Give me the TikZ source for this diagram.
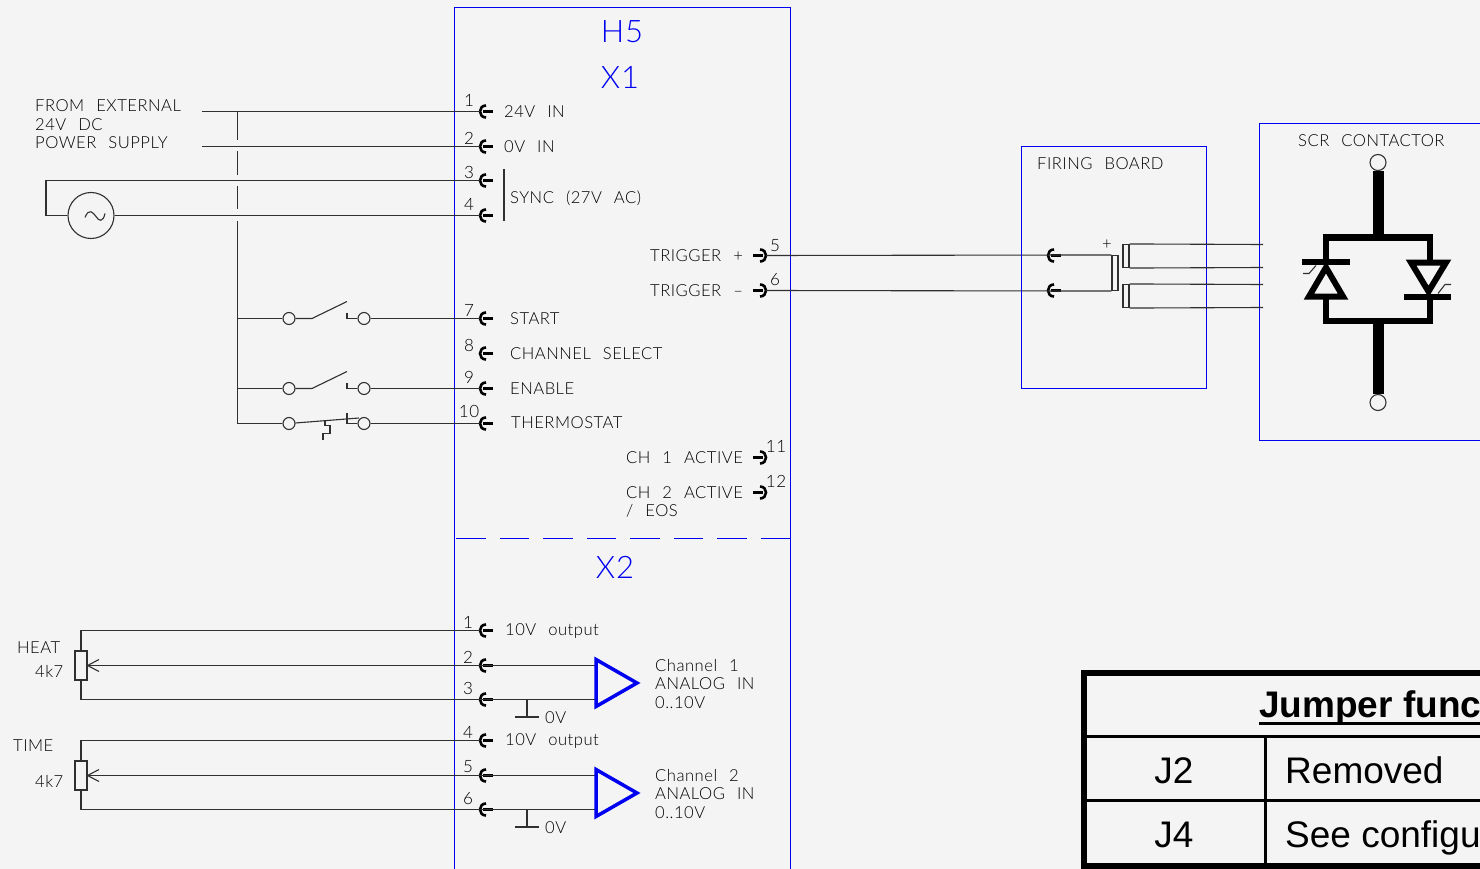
\documentclass[tikz,border=0pt]{standalone}
\usepackage{fontspec}
\usepackage{tikz}
\usepackage{xcolor}
\setmainfont{Liberation Sans}
\newfontfamily\cadfont[LetterSpace=3,WordSpace=2.4]{Lato Light}
\definecolor{sheet}{HTML}{F4F4F4}
\definecolor{wire}{HTML}{303030}
\definecolor{frame}{HTML}{0000F0}
\tikzset{
    wirepath/.style = {draw=wire, line width=1.1pt},
    frameline/.style = {draw=frame, line width=1pt},
    cadtext/.style = {text=black, font=\cadfont\fontsize{16.6}{18.6}\selectfont, inner sep=0pt, anchor=west, align=left, yshift=0.5pt},
    pinno/.style = {text=black, font=\cadfont\fontsize{17}{18}\selectfont, inner sep=0pt},
    frametitle/.style = {text=frame, font=\cadfont\fontsize{31}{32}\selectfont, inner sep=0pt},
    contact/.style = {circle, draw=wire, line width=1.1pt, inner sep=0pt, minimum size=12pt},
    thickpath/.style = {draw=black, line width=6pt, line cap=butt},
    potbox/.style = {rectangle, draw=wire, line width=1.1pt, inner sep=0pt, minimum width=12pt, minimum height=29pt},
    tablecell/.style = {text=black, font=\fontsize{37}{40}\selectfont, inner sep=0pt},
    socketl/.pic = {
        \coordinate (-in) at (-6,0);
        \draw[black, line width=2.6pt] (0,-6) .. controls (-8,-6) and (-8,6) .. (0,6);
        \draw[black, line width=3.6pt] (-3,0) -- (7,0);
    },
    socketr/.pic = {
        \coordinate (-in) at (6,0);
        \draw[black, line width=2.6pt] (0,-6) .. controls (8,-6) and (8,6) .. (0,6);
        \draw[black, line width=3.6pt] (3,0) -- (-7,0);
    },
}
\begin{document}
\begin{tikzpicture}[x=1pt,y=-1pt]
\useasboundingbox[fill=sheet] (0,-0.5) rectangle (1480,868.5);

% H5 housing
\draw[frameline] (454.5,868.5) -- (454.5,7.5) -- (790,7.5) -- (790,868.5);
\draw[frame, line width=1pt, dash pattern=on 29.3pt off 14.2pt] (790,538) -- (454.5,538);
\node[frametitle] (h5) at (622,31.5) {H5};
\node[frametitle] (x1) at (620,77) {X1};
\node[frametitle] (x2) at (615,567) {X2};

% X1 left terminals
\foreach \nm/\y/\numy in {1/111/100, 2/146/138, 3/180/172, 4/215/204, 7/318/310, 8/353/345, 9/388/377, 10/423/411} {
    \pic (xa\nm) at (486,\y) {socketl};
    \node[pinno] (xan\nm) at (469,\numy) {\nm};
}
\node[cadtext] (in24) at (504,112) {24V IN};
\node[cadtext] (in0) at (504,146.5) {0V IN};
\node[cadtext] (sync) at (510,198) {SYNC (27V AC)};
\node[cadtext] (start) at (510,319) {START};
\node[cadtext] (chsel) at (510,354) {CHANNEL SELECT};
\node[cadtext] (enable) at (510,388.5) {ENABLE};
\node[cadtext] (thermo) at (511,423) {THERMOSTAT};
\coordinate (synca) at (504,169);
\coordinate (syncb) at (504,221);
\draw[wirepath] (synca) -- (syncb);

% X1 right terminals
\foreach \nm/\y/\numx/\numy in {5/255/775/245, 6/290/775/279, 11/457/776/446, 12/492/776/481} {
    \pic (xa\nm) at (760,\y) {socketr};
    \node[pinno] (xan\nm) at (\numx,\numy) {\nm};
}
\node[cadtext] (trigp) at (650,256) {TRIGGER +};
\node[cadtext] (trign) at (650,290.5) {TRIGGER –};
\node[cadtext] (ch1) at (626,458) {CH 1 ACTIVE};
\node[cadtext] (ch2) at (626,492.5) {CH 2 ACTIVE};
\node[cadtext] (eos) at (626,511) {/ EOS};

% supply
\node[cadtext] (supply) at (35,124.5) {FROM EXTERNAL\\24V DC\\POWER SUPPLY};
\coordinate (s24) at (202,111);
\coordinate (s0) at (202,146);
\draw[wirepath] (s24) -- (xa1-in);
\draw[wirepath] (s0) -- (xa2-in);
\node[circle, draw=wire, line width=1.1pt, inner sep=0pt, minimum size=46pt] (ac) at (91,215) {};
\draw[wirepath] (85,217) .. controls (89,207) and (93,212) .. (96,216) .. controls (99,221) and (103,222) .. (105,213);
\coordinate (acb) at (46,215);
\coordinate (act) at (46,180);
\draw[wirepath] (ac) -- (acb) -- (act) -- (xa3-in);
\draw[wirepath] (ac) -- (xa4-in);

% rail with breaks at the crossings
\coordinate (rail) at (237.4,111);
\coordinate (railend) at (237.4,423);
\draw[wirepath] (rail) -- (237.4,140);
\draw[wirepath] (237.4,151) -- (237.4,175);
\draw[wirepath] (237.4,186) -- (237.4,209);
\draw[wirepath] (237.4,221) -- (railend);

% contacts
\foreach \nm/\y in {7/318, 9/388} {
    \node[contact] (ca\nm) at (289,\y) {};
    \node[contact] (cb\nm) at (364,\y) {};
    \draw[wirepath] (237.4,\y) -- (ca\nm);
    \draw[wirepath] (ca\nm) -- (312,\y) -- (347,\y-17);
    \draw[wirepath] (347,\y-6) -- (347,\y) -- (cb\nm);
    \draw[wirepath] (cb\nm) -- (xa\nm-in);
}
\node[contact] (ca10) at (289,423) {};
\node[contact] (cb10) at (364,423) {};
\coordinate (blade) at (359,417.5);
\draw[wirepath] (railend) -- (ca10);
\draw[wirepath] (ca10) -- (blade);
\draw[wirepath] (347,412) -- (347,423) -- (cb10);
\draw[wirepath] (cb10) -- (xa10-in);
\draw[wirepath] (325,420.5) -- (325,425) -- (330,425) -- (330,433) -- (323,433) -- (323,439);

% trigger wires
\node[rectangle, draw=wire, line width=1.1pt, inner sep=0pt, minimum width=6pt, minimum height=35pt] (fbbar) at (1115,272.5) {};
\pic (fb1) at (1054,255) {socketl};
\pic (fb2) at (1054,290) {socketl};
\draw[wirepath] (xa5-in) -- (fbbar.north west);
\draw[wirepath] (xa6-in) -- (fbbar.south west);
\node[cadtext, anchor=center] (fbplus) at (1107,245) {+};

% firing board and scr box
\node[rectangle, frameline, inner sep=0pt, minimum width=185pt, minimum height=242pt] (fb) at (1114.3,266.7) {};
\node[cadtext] (fbtitle) at (1037,164) {FIRING BOARD};
\draw[frameline] (1480,122.7) -- (1259.7,122.7) -- (1259.7,440) -- (1480,440);
\node[cadtext] (scrtitle) at (1298,141) {SCR CONTACTOR};
\foreach \nm/\y in {1/255.5, 2/295.5} {
    \node[rectangle, draw=wire, line width=1.1pt, inner sep=0pt, minimum width=6pt, minimum height=23pt] (tr\nm) at (1126,\y) {};
    \coordinate (gt\nm) at (1263,\y-11.5);
    \coordinate (gb\nm) at (1263,\y+11.5);
    \draw[wirepath] (tr\nm.north east) -- (gt\nm);
    \draw[wirepath] (tr\nm.south east) -- (gb\nm);
}

% thyristor pair
\node[contact, minimum size=16pt] (scrt) at (1378,162) {};
\node[contact, minimum size=16pt] (scrb) at (1378,402) {};
\draw[black, line width=11pt] (scrt) -- (1378,240);
\draw[black, line width=11pt] (1378,318) -- (scrb);
\draw[thickpath] (1326,261) -- (1326,237) -- (1430,237) -- (1430,262);
\draw[thickpath] (1326,296) -- (1326,320) -- (1430,320) -- (1430,296);
\draw[thickpath] (1302,261.5) -- (1350,261.5);
\draw[thickpath, line join=miter] (1326,267) -- (1343,296) -- (1309,296) -- cycle;
\draw[thickpath, line join=miter] (1411,262) -- (1446,262) -- (1428.5,291) -- cycle;
\draw[thickpath] (1404,296) -- (1451,296);
\draw[wirepath] (1303,273) -- (1309,273) -- (1316,265);
\draw[wirepath] (1438,293) -- (1445,284) -- (1451,284);

% X2 terminals
\foreach \nm/\y/\numy in {1/630/622, 2/665/657, 3/699/688, 4/740/732, 5/775/766, 6/809/798} {
    \pic (xb\nm) at (486,\y) {socketl};
    \node[pinno] (xbn\nm) at (468,\numy) {\nm};
}
\node[cadtext] (ref1) at (505,631) {10V output};
\node[cadtext] (ref2) at (505,741) {10V output};

% analog channels
\foreach \ch/\dy/\pa/\pb/\pc in {1/0/1/2/3, 2/110/4/5/6} {
    \node[potbox] (pot\ch) at (81,665+\dy) {};
    \coordinate (pt\ch) at (81,630+\dy);
    \coordinate (pb\ch) at (81,699+\dy);
    \draw[wirepath] (xb\pa-in) -- (pt\ch) -- (pot\ch);
    \draw[wirepath] (pot\ch) -- (pb\ch) -- (xb\pc-in);
    \draw[wirepath] (pot\ch.east) -- (596,665+\dy);
    \draw[wirepath] (99,659+\dy) -- (pot\ch.east) -- (99,671+\dy);
    \draw[wirepath] (xb\pc-in) -- (596,699+\dy);
    \draw[frame, line width=3.5pt, line join=miter] (596,659+\dy) -- (637,682.5+\dy) -- (596,706+\dy) -- cycle;
    \coordinate (gnd\ch) at (527,716.5+\dy);
    \draw[wirepath] (527,699+\dy) -- (gnd\ch);
    \draw[wirepath] (515,716.5+\dy) -- (539,716.5+\dy);
    \node[cadtext] (gv\ch) at (545,717.5+\dy) {0V};
    \node[cadtext] (aname\ch) at (655,684+\dy) {Channel \ch\\ANALOG IN\\0..10V};
}
\node[cadtext] (heat) at (17,648) {HEAT};
\node[cadtext] (heatv) at (35,671) {4k7};
\node[cadtext] (time) at (13,746) {TIME};
\node[cadtext] (timev) at (35,781) {4k7};

% jumper table
\draw[black, line width=6pt, line join=miter] (1480,672) -- (1084,672) -- (1084,865) -- (1480,865);
\coordinate (rowa) at (1084,736);
\coordinate (rowb) at (1084,800);
\draw[black, line width=2.5pt] (rowa) -- (1480,736);
\draw[black, line width=2.5pt] (rowb) -- (1480,800);
\draw[black, line width=2.5pt] (1265.5,736) -- (1265.5,865);
\node[tablecell, anchor=base west, font=\bfseries\fontsize{37}{40}\selectfont] (ttl) at (1259,717) {Jumper func};
\draw[black, line width=3pt] ([yshift=-6pt]ttl.base west) -- (1480,723);
\node[tablecell] (j2) at (1174,770) {J2};
\node[tablecell] (j4) at (1174,834) {J4};
\node[tablecell, anchor=base west] (jr2) at (1285,783) {Removed};
\node[tablecell, anchor=base west] (jr4) at (1285,847) {See configu};
\end{tikzpicture}
\end{document}
